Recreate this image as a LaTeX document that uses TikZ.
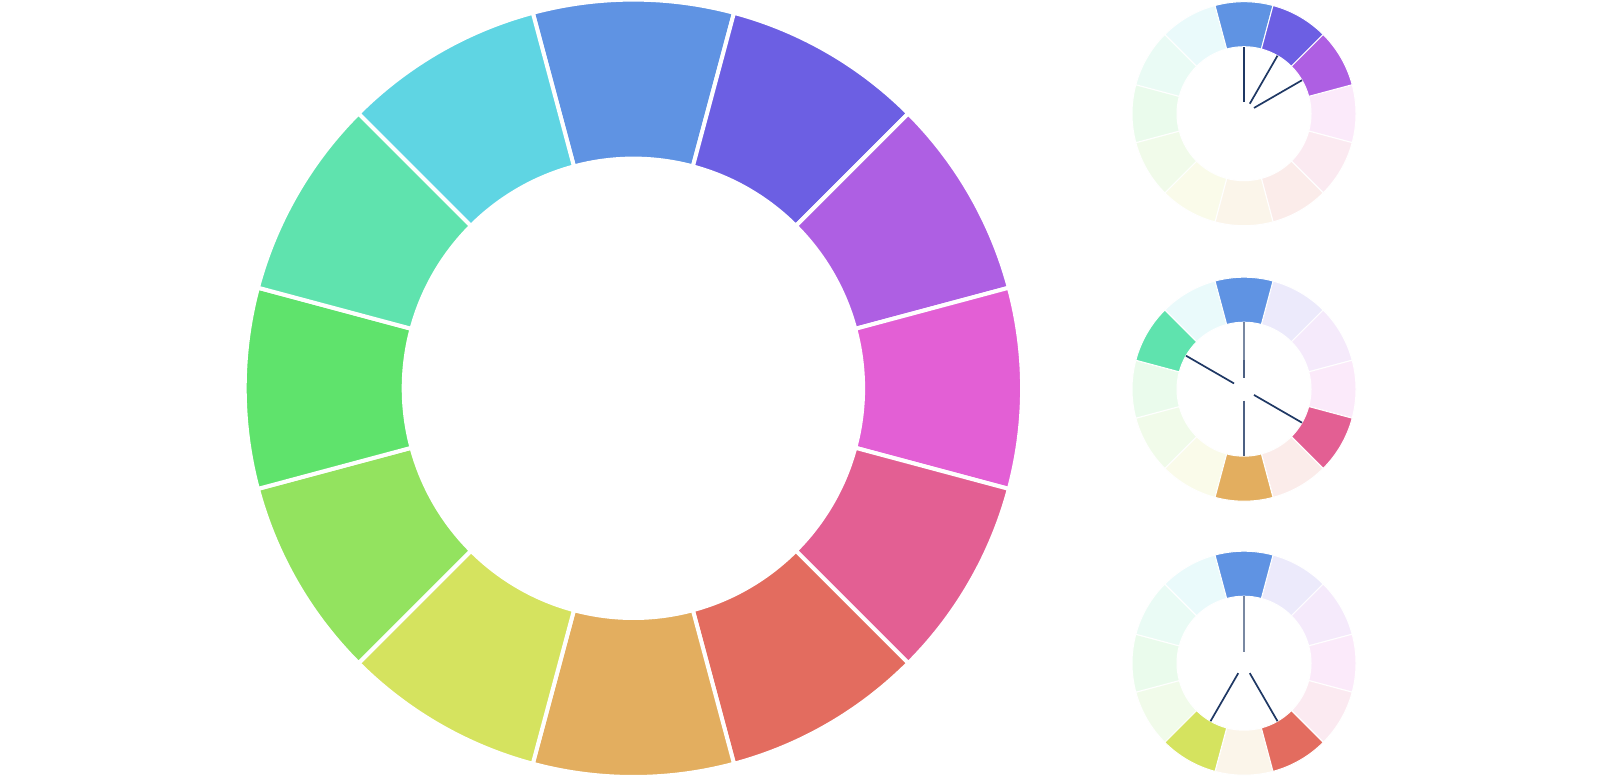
\documentclass[tikz,border=0pt]{standalone}
\usepackage{tikz}
\usetikzlibrary{calc}

% 色环的 12 个颜色（从顶部顺时针）
\definecolor{h0}{HTML}{5F93E3}
\definecolor{h1}{HTML}{6C5FE3}
\definecolor{h2}{HTML}{AE5FE3}
\definecolor{h3}{HTML}{E35FD5}
\definecolor{h4}{HTML}{E35F93}
\definecolor{h5}{HTML}{E36C5F}
\definecolor{h6}{HTML}{E3AE5F}
\definecolor{h7}{HTML}{D5E35F}
\definecolor{h8}{HTML}{93E35F}
\definecolor{h9}{HTML}{5FE36C}
\definecolor{h10}{HTML}{5FE3AE}
\definecolor{h11}{HTML}{5FD5E3}
\definecolor{navy}{HTML}{1F3864}

% 环形扇区：#1 中心角, #2 外半径, #3 内半径
\newcommand{\ringseg}[3]{(#1-15:#2) arc[start angle=#1-15,end angle=#1+15,radius=#2] -- (#1+15:#3) arc[start angle=#1+15,end angle=#1-15,radius=#3] -- cycle}

\tikzset{
  bigseg/.style={draw=white,line width=4},
  paleseg/.style={draw=white,line width=1,fill opacity=0.13},
  fullseg/.style={draw=white,line width=1},
  ray/.style={navy,line width=1.7}
}

\begin{document}
\begin{tikzpicture}[x=1pt,y=1pt]
  \useasboundingbox (0,0) rectangle (1600,777);
  % 大色环
  \coordinate (O) at (633.4,388.7);
  \begin{scope}[shift={(O)}]
    \foreach \i in {0,...,11}{
      \pgfmathsetmacro\a{90-30*\i}
      \fill[h\i,bigseg] \ringseg{\a}{388.7}{229.7};
    }
  \end{scope}
  % 小色环 1：相邻色
  \coordinate (P1) at (1244,663.3);
  \begin{scope}[shift={(P1)}]
    \foreach \i in {0,...,11}{
      \pgfmathsetmacro\a{90-30*\i}
      \fill[h\i,paleseg] \ringseg{\a}{112}{67};
    }
    \foreach \i in {0,1,2}{
      \pgfmathsetmacro\a{90-30*\i}
      \fill[h\i,fullseg] \ringseg{\a}{112}{67};
      \draw[ray] (\a:11.5) -- (\a:67);
    }
  \end{scope}
  % 小色环 2：矩形四色
  \coordinate (P2) at (1244,387.8);
  \begin{scope}[shift={(P2)}]
    \foreach \i in {0,...,11}{
      \pgfmathsetmacro\a{90-30*\i}
      \fill[h\i,paleseg] \ringseg{\a}{112}{67};
    }
    \foreach \i in {0,4,6,10}{
      \pgfmathsetmacro\a{90-30*\i}
      \fill[h\i,fullseg] \ringseg{\a}{112}{67};
    }
    \draw[ray,opacity=0.6] (90:11.5) -- (90:67);
    \draw[ray,opacity=0.5] (90:11.5) -- (90:29);
    \draw[ray,opacity=0.8] (-90:11.5) -- (-90:67);
    \draw[ray] (150:11.5) -- (150:67);
    \draw[ray] (-30:11.5) -- (-30:67);
  \end{scope}
  % 小色环 3：分裂补色
  \coordinate (P3) at (1244,113.8);
  \begin{scope}[shift={(P3)}]
    \foreach \i in {0,...,11}{
      \pgfmathsetmacro\a{90-30*\i}
      \fill[h\i,paleseg] \ringseg{\a}{112}{67};
    }
    \foreach \i in {0,5,7}{
      \pgfmathsetmacro\a{90-30*\i}
      \fill[h\i,fullseg] \ringseg{\a}{112}{67};
    }
    \draw[ray,opacity=0.6] (90:11.5) -- (90:67);
    \draw[ray] (-60:11.5) -- (-60:67);
    \draw[ray] (-120:11.5) -- (-120:67);
  \end{scope}
\end{tikzpicture}
\end{document}
